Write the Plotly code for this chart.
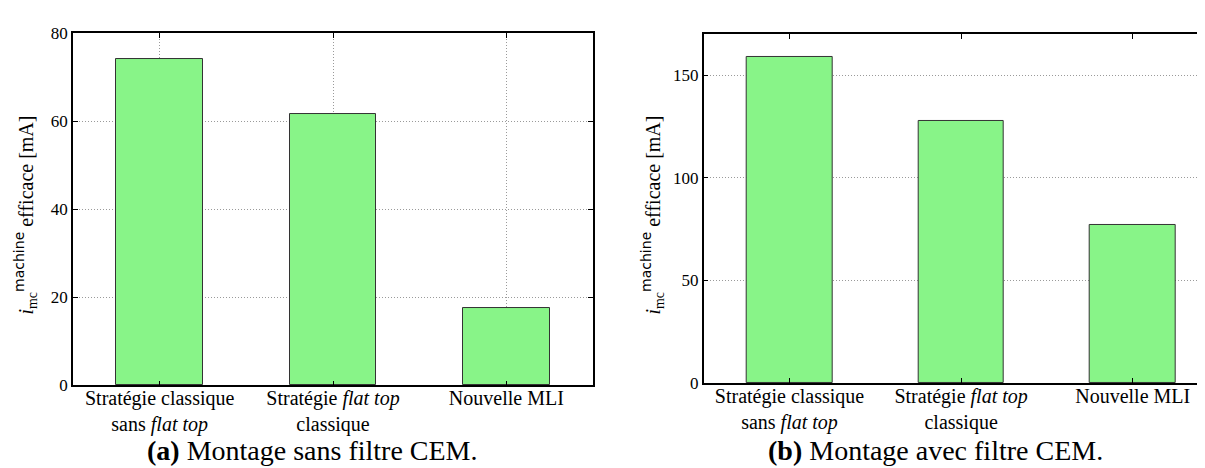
import plotly.graph_objects as go

categories = [1, 2, 3]
tick_labels = [
    "Stratégie classique<br>sans <i>flat top</i>",
    "Stratégie <i>flat top</i><br>classique",
    "Nouvelle MLI",
]
values_sans_filtre = [74.2, 61.7, 17.6]
values_avec_filtre = [158.9, 127.5, 77.0]
yticks_a = [0, 20, 40, 60, 80]
yticks_b = [0, 50, 100, 150]

W, H = 1205, 468
SERIF = "Liberation Serif"
BAR = "#88f488"
EDGE = "#333333"
GRID = "#9a9a9a"


def px_x(p):
    return p / W


def px_y(p):
    return (H - p) / H


fig = go.Figure()
fig.add_trace(go.Bar(x=categories, y=values_sans_filtre, width=0.5,
                     marker=dict(color=BAR, line=dict(color=EDGE, width=1)),
                     xaxis="x", yaxis="y", showlegend=False))
fig.add_trace(go.Bar(x=categories, y=values_avec_filtre, width=0.5,
                     marker=dict(color=BAR, line=dict(color=EDGE, width=1)),
                     xaxis="x2", yaxis="y2", showlegend=False))

xtickfont = dict(family=SERIF, size=20, color="black")
ytickfont = dict(family=SERIF, size=17, color="black")
common_axis = dict(showline=True, linecolor="black", linewidth=1.5,
                   ticks="inside", ticklen=5, tickwidth=1, tickcolor="black",
                   zeroline=False)

fig.update_layout(
    xaxis=dict(domain=[px_x(65), px_x(585)], range=[0.5, 3.5],
               tickvals=categories, ticktext=tick_labels, mirror="ticks",
               showgrid=True, gridcolor=GRID, griddash="1px,2px", gridwidth=1,
               ticklabelstandoff=-6, tickfont=xtickfont, anchor="y", **common_axis),
    yaxis=dict(domain=[px_y(384), px_y(16.7)], range=[0, 80],
               tickvals=yticks_a, mirror="ticks", tickfont=ytickfont,
               showgrid=True, gridcolor=GRID, griddash="1px,2px", gridwidth=1,
               anchor="x", **common_axis),
    xaxis2=dict(domain=[px_x(695.7), 1.0],
                range=[0.5, 0.5 + (W - 695.7) / 171.6],
                tickvals=categories, ticktext=tick_labels, mirror="ticks",
                showgrid=False, ticklabelstandoff=-6, tickfont=xtickfont,
                anchor="y2", **common_axis),
    yaxis2=dict(domain=[px_y(381.5), px_y(17.7)], range=[0, 170],
                tickvals=yticks_b, mirror=False, tickfont=ytickfont,
                showgrid=True, gridcolor=GRID, griddash="1px,2px", gridwidth=1,
                anchor="x2", **common_axis),
)

ytitle = ('<i>i</i><sub>mc</sub><sup><span style="font-family:DejaVu Sans">machine</span></sup>'
          ' efficace [mA]')

annotations = [
    dict(text=ytitle, x=px_x(18), y=px_y(207), xref="paper", yref="paper",
         textangle=-90, showarrow=False, xanchor="center", yanchor="middle",
         font=dict(family=SERIF, size=20, color="black")),
    dict(text=ytitle, x=px_x(645), y=px_y(207), xref="paper", yref="paper",
         textangle=-90, showarrow=False, xanchor="center", yanchor="middle",
         font=dict(family=SERIF, size=20, color="black")),
    dict(text="<b>(a)</b> Montage sans filtre CEM.", x=px_x(304), y=px_y(452),
         xref="paper", yref="paper", showarrow=False, xanchor="center",
         yanchor="middle", font=dict(family=SERIF, size=28, color="black")),
    dict(text="<b>(b)</b> Montage avec filtre CEM.", x=px_x(927), y=px_y(452),
         xref="paper", yref="paper", showarrow=False, xanchor="center",
         yanchor="middle", font=dict(family=SERIF, size=28, color="black")),
]

fig.update_layout(
    width=W, height=H, autosize=False,
    margin=dict(l=0, r=0, t=0, b=0),
    font=dict(family=SERIF, color="black"),
    paper_bgcolor="white", plot_bgcolor="white",
    annotations=annotations,
    bargap=0,
)

fig.write_html("out.html")
